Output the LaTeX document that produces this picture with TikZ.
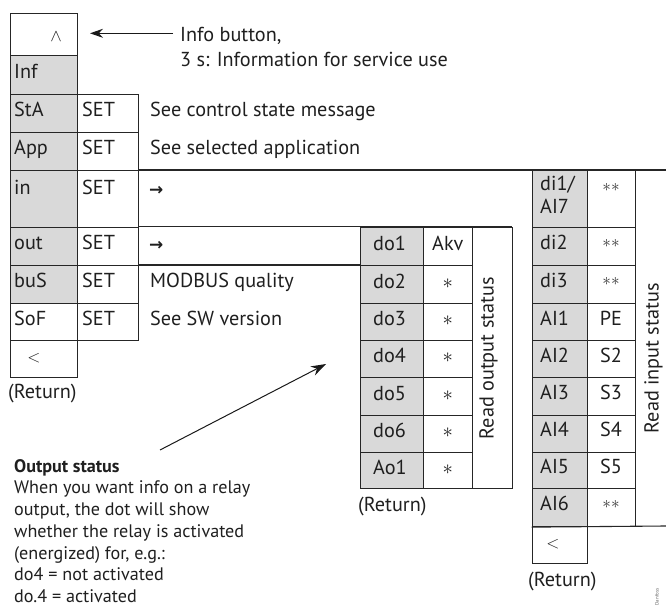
\documentclass[tikz,border=0pt]{standalone}
\usepackage{fontspec}
\setmainfont{PT Sans}
\newfontfamily\arrfont{DejaVu Sans}
\usetikzlibrary{arrows.meta}
\begin{document}
\begin{tikzpicture}[x=1bp,y=-1bp,
  every node/.style={font=\fontsize{20.3}{25}\selectfont, text=black!88},
  ln/.style={draw=black!85, line width=1.1bp},
  cell/.style={ln, rectangle, inner sep=0pt, anchor=north west},
  g/.style={fill=black!15},
  lbl/.style={inner sep=0pt, text height=1.45ex, text depth=0pt, anchor=west},
  ctr/.style={inner sep=0pt, text height=1.45ex, text depth=0pt, anchor=center},
  dbl/.style={ctr, font=\fontsize{16}{18}\selectfont, text=black!80},
  arr/.style={draw=black!90, line width=1bp, -{Stealth[length=13bp,width=9bp]}},
  arrg/.style={lbl, font=\arrfont\bfseries\fontsize{17}{19}\selectfont},
]
\useasboundingbox (0,0) rectangle (666,611);

% ---------- left menu column ----------
\node[cell, minimum width=67bp, minimum height=42.3bp] (cUp) at (10,12.7) {};
\node[cell, g, minimum width=67bp, minimum height=39.3bp] (cInf) at (10,55) {};
\node[cell, g, minimum width=67bp, minimum height=37.4bp] (cStA) at (10,94.3) {};
\node[cell, g, minimum width=67bp, minimum height=38.3bp] (cApp) at (10,131.7) {};
\node[cell, g, minimum width=67bp, minimum height=56.7bp] (cIn) at (10,170) {};
\node[cell, g, minimum width=67bp, minimum height=38.3bp] (cOut) at (10,226.7) {};
\node[cell, g, minimum width=67bp, minimum height=37.7bp] (cBus) at (10,265) {};
\node[cell, minimum width=67bp, minimum height=37.3bp] (cSof) at (10,302.7) {};
\node[cell, minimum width=67bp, minimum height=37.3bp] (cRet) at (10,340) {};

% SET column
\node[cell, minimum width=61bp, minimum height=37.4bp] (sStA) at (77,94.3) {};
\node[cell, minimum width=61bp, minimum height=38.3bp] (sApp) at (77,131.7) {};
\node[cell, minimum width=61bp, minimum height=56.7bp] (sIn) at (77,170) {};
\node[cell, minimum width=61bp, minimum height=38.3bp] (sOut) at (77,226.7) {};
\node[cell, minimum width=61bp, minimum height=37.7bp] (sBus) at (77,265) {};
\node[cell, minimum width=61bp, minimum height=37.3bp] (sSof) at (77,302.7) {};

% long horizontal lines
\coordinate (eTop) at (666,170);
\coordinate (eOut) at (511.7,226.7);
\coordinate (eBus) at (360,265);
\draw[ln] (sIn.north east) -- (eTop);
\draw[ln] (sOut.north east) -- (eOut);
\draw[ln] (sBus.north east) -- (eBus);

% ---------- output status block ----------
\node[cell, ln, minimum width=40bp, minimum height=261.6bp] (rOut) at (471.7,226.7) {};
\foreach \n/\y/\h/\lab/\val in {1/226.7/38.3/do1/Akv, 2/265/37.7/do2/$\ast$, 3/302.7/37.3/do3/$\ast$, 4/340/37.3/do4/$\ast$, 5/377.3/37.2/do5/$\ast$, 6/414.5/37.2/do6/$\ast$, 7/451.7/36.6/Ao1/$\ast$}{
  \node[cell, g, minimum width=62.7bp, minimum height=\h bp] (do\n) at (360,\y) {};
  \node[cell, minimum width=49bp, minimum height=\h bp] (dv\n) at (422.7,\y) {};
  \node[lbl] (dl\n) at ([xshift=13bp]do\n.west) {\lab};
  \node[ctr] (dw\n) at (dv\n.center) {\val};
}
\node[ctr, rotate=90] (tOut) at (490,358.3) {Read output status};
\node[anchor=west, inner sep=0pt, text height=1.45ex, text depth=0pt] (retOut) at (358,508) {(Return)};

% ---------- input status block ----------
\foreach \n/\y/\h in {1/170/56.7, 2/226.7/38.3, 3/265/37.7, 4/302.7/37.3, 5/340/37.3, 6/377.3/37.2, 7/414.5/37.2, 8/451.7/36.6, 9/488.3/37.7}{
  \node[cell, g, minimum width=55bp, minimum height=\h bp] (di\n) at (531.7,\y) {};
  \node[cell, minimum width=48.3bp, minimum height=\h bp] (dj\n) at (586.7,\y) {};
}
\node[cell, minimum width=55bp, minimum height=37.3bp] (diRet) at (531.7,526) {};
\coordinate (eIn) at (666,526);
\draw[ln] (di9.south west) -- (eIn);

\node[anchor=north west, align=left, inner sep=0pt, font=\fontsize{20.3}{23.7}\selectfont] (il1) at (540,175.5) {di1/\\AI7};
\node[lbl] (il2) at (540,245.8) {di2};
\node[lbl] (il3) at (540,283.8) {di3};
\node[lbl] (il4) at (540,321.4) {AI1};
\node[lbl] (il5) at (540,358.6) {AI2};
\node[lbl] (il6) at (540,395.9) {AI3};
\node[lbl] (il7) at (540,433.1) {AI4};
\node[lbl] (il8) at (540,470) {AI5};
\node[lbl] (il9) at (540,507.1) {AI6};
\node[dbl] (iv1) at (611,188) {$\ast\ast$};
\node[dbl] (iv2) at (611,244) {$\ast\ast$};
\node[dbl] (iv3) at (611,282) {$\ast\ast$};
\node[ctr] (iv4) at (611,321.4) {PE};
\node[ctr] (iv5) at (611,358.6) {S2};
\node[ctr] (iv6) at (611,395.9) {S3};
\node[ctr] (iv7) at (611,433.1) {S4};
\node[ctr] (iv8) at (611,470) {S5};
\node[dbl] (iv9) at (611,505) {$\ast\ast$};
\node[ctr, font=\fontsize{17}{19}\selectfont] (iRetL) at (553,544.7) {$<$};
\node[ctr, rotate=90] (tIn) at (655,358.3) {Read input status};
\node[anchor=west, inner sep=0pt, text height=1.45ex, text depth=0pt] (retIn) at (528,582.7) {(Return)};

% ---------- left labels ----------
\node[ctr, font=\fontsize{18}{20}\selectfont] (up) at (56,38) {$\wedge$};
\node[lbl] (lInf) at (14,74.7) {Inf};
\node[lbl] (lStA) at (14,113) {StA};
\node[lbl] (lApp) at (14,150.8) {App};
\node[lbl] (lIn) at (14,190.5) {in};
\node[lbl] (lOut) at (14,245.8) {out};
\node[lbl] (lBus) at (14,283.8) {buS};
\node[lbl] (lSof) at (14,321.4) {SoF};
\node[ctr, font=\fontsize{17}{19}\selectfont] (lRet) at (34,358.6) {$<$};
\node[anchor=west, inner sep=0pt, text height=1.45ex, text depth=0pt] (retL) at (8,395) {(Return)};

\foreach \nm/\y in {StA/113, App/150.8, In/190.5, Out/245.8, Bus/283.8, Sof/321.4}{
  \node[lbl] (set\nm) at (82,\y) {SET};
}
\node[lbl] (tStA) at (150,113) {See control state message};
\node[lbl] (tApp) at (150,150.8) {See selected application};
\node[arrg] (tInA) at (149,191.5) {→};
\node[arrg] (tOutA) at (149,246.8) {→};
\node[lbl] (tBus) at (150,283.8) {MODBUS quality};
\node[lbl] (tSof) at (150,321.4) {See SW version};

% ---------- info button ----------
\node[anchor=north west, align=left, inner sep=0pt] (info) at (180,27) {Info button,\\3 s: Information for service use};
\coordinate (infoS) at (173,33.3);
\coordinate (infoE) at (90,33.3);
\draw[arr] (infoS) -- (infoE);

% ---------- output status note ----------
\node[anchor=north west, align=left, inner sep=0pt, font=\fontsize{18.2}{21.8}\selectfont] (note) at (14,459)
  {\textbf{Output status}\\When you want info on a relay\\output, the dot will show\\whether the relay is activated\\(energized) for, e.g.:\\do4 = not activated\\do.4 = activated};
\coordinate (noteS) at (160,450);
\coordinate (noteE) at (326,364);
\draw[arr, -{Stealth[length=15bp,width=10bp]}] (noteS) -- (noteE);

% tiny mark
\node[rotate=90, inner sep=0pt, font=\fontsize{5}{6}\selectfont, text=black!60] (dan) at (657,597) {Danfoss};
\end{tikzpicture}
\end{document}
